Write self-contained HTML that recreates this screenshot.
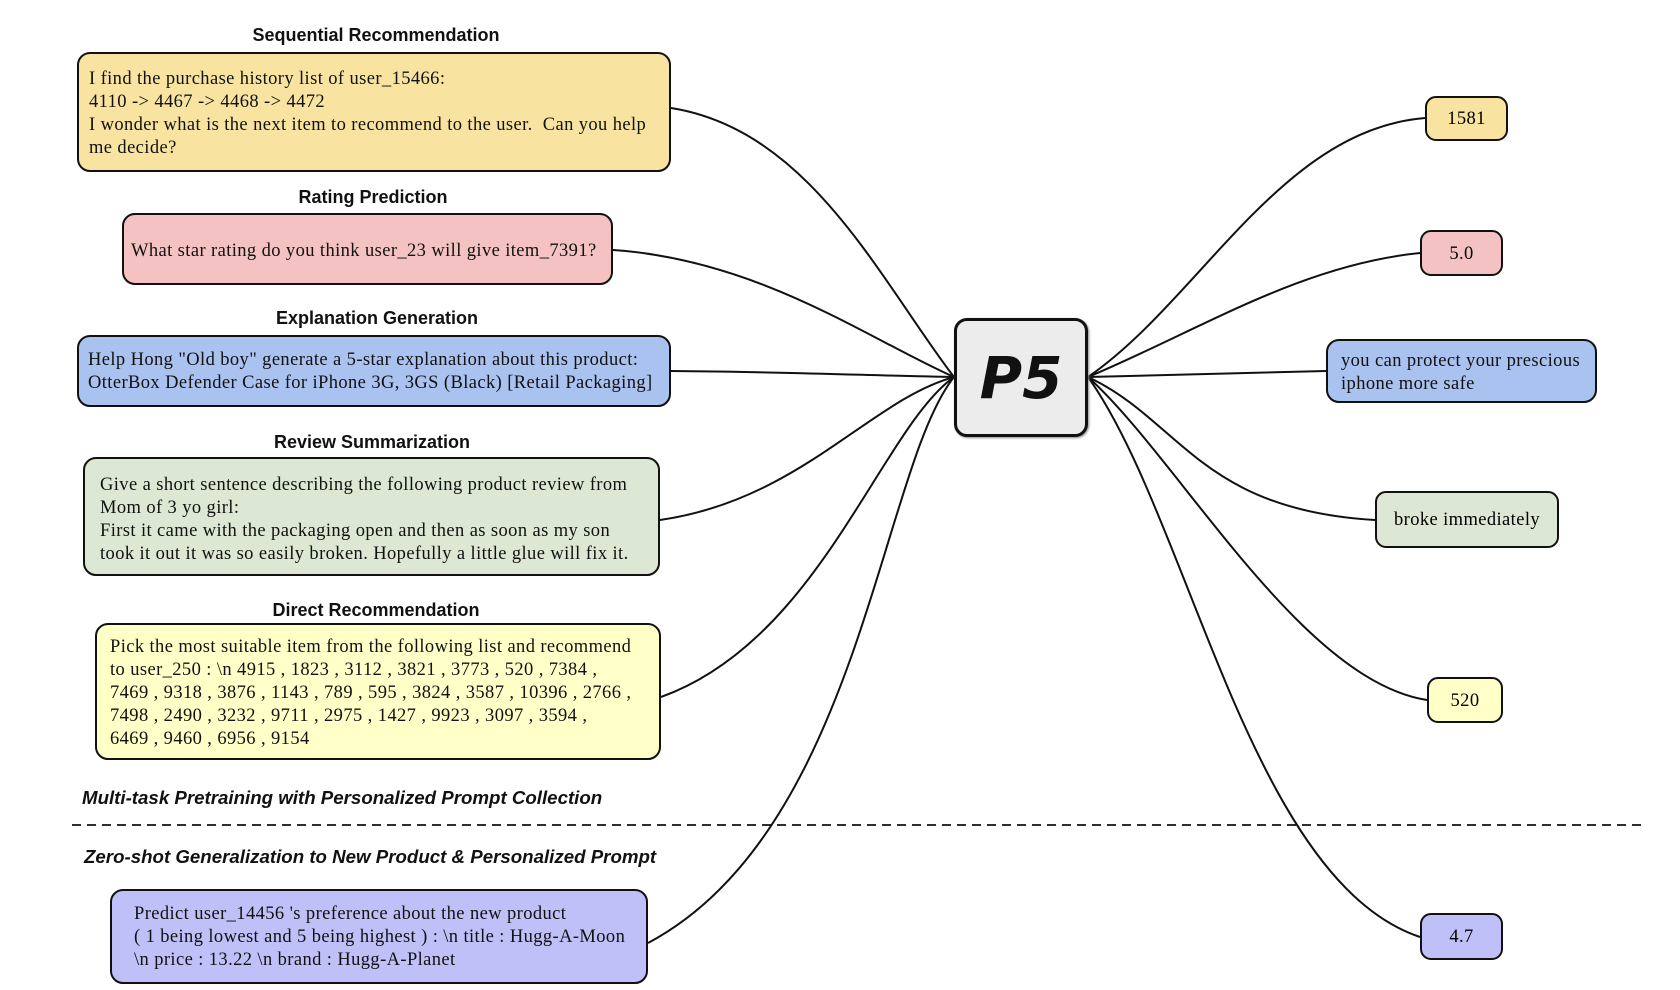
<!DOCTYPE html>
<html><head><meta charset="utf-8"><style>
body{margin:0;width:1680px;height:990px;background:#fff;position:relative;overflow:hidden;font-family:"Liberation Serif",serif;}
.b{position:absolute;border:2.2px solid #111;border-radius:13px;box-sizing:border-box;}
.t{position:absolute;font-size:18.5px;letter-spacing:0.4px;line-height:23px;color:#111;white-space:nowrap;}
.h{position:absolute;font-family:"Liberation Sans",sans-serif;font-weight:bold;font-size:18px;transform:translateX(-50%);white-space:nowrap;color:#111;}
.i{position:absolute;font-family:"Liberation Sans",sans-serif;font-weight:bold;font-style:italic;font-size:18.7px;white-space:nowrap;color:#111;}
.s{position:absolute;border:2.2px solid #111;border-radius:11px;box-sizing:border-box;font-size:18.5px;letter-spacing:0.4px;display:flex;align-items:center;justify-content:center;padding-top:2px;}
</style></head><body>
<svg width="1680" height="990" style="position:absolute;left:0;top:0" fill="none" stroke="#111" stroke-width="2">
<path d="M671,108 C810,130 880,280 954,377"/>
<path d="M613,250 C760,260 870,340 954,377"/>
<path d="M671,371 C800,372 880,376 954,377"/>
<path d="M660,520 C800,500 870,400 954,377"/>
<path d="M661,697 C820,640 880,430 954,377"/>
<path d="M648,943 C860,830 880,470 954,377"/>
<path d="M1088,377 C1200,300 1280,130 1425,118"/>
<path d="M1088,377 C1200,330 1300,265 1420,253"/>
<path d="M1088,377 C1200,374 1300,372 1326,371"/>
<path d="M1088,377 C1180,420 1200,510 1375,520"/>
<path d="M1088,377 C1180,460 1300,680 1427,700"/>
<path d="M1088,377 C1190,520 1250,880 1420,937"/>
<line x1="72" y1="825" x2="1641" y2="825" stroke-dasharray="9,6" stroke-width="1.8"/>
</svg>

<div class="h" style="left:376px;top:25px">Sequential Recommendation</div>
<div class="b" style="left:77px;top:52px;width:594px;height:120px;background:#f9e3a1"></div>
<div class="t" style="left:89px;top:68px">I find the purchase history list of user_15466:<br>4110 -&gt; 4467 -&gt; 4468 -&gt; 4472<br>I wonder what is the next item to recommend to the user.&nbsp; Can you help<br>me decide?</div>

<div class="h" style="left:373px;top:187px">Rating Prediction</div>
<div class="b" style="left:122px;top:213px;width:491px;height:72px;background:#f4c2c2"></div>
<div class="t" style="left:131px;top:240px">What star rating do you think user_23 will give item_7391?</div>

<div class="h" style="left:377px;top:308px">Explanation Generation</div>
<div class="b" style="left:77px;top:335px;width:594px;height:72px;background:#a9c2ef"></div>
<div class="t" style="left:88px;top:349px">Help Hong "Old boy" generate a 5-star explanation about this product:<br>OtterBox Defender Case for iPhone 3G, 3GS (Black) [Retail Packaging]</div>

<div class="h" style="left:372px;top:432px">Review Summarization</div>
<div class="b" style="left:83px;top:457px;width:577px;height:119px;background:#dce8d4"></div>
<div class="t" style="left:100px;top:474px">Give a short sentence describing the following product review from<br>Mom of 3 yo girl:<br>First it came with the packaging open and then as soon as my son<br>took it out it was so easily broken. Hopefully a little glue will fix it.</div>

<div class="h" style="left:376px;top:600px">Direct Recommendation</div>
<div class="b" style="left:95px;top:623px;width:566px;height:137px;background:#ffffc8"></div>
<div class="t" style="left:110px;top:636px">Pick the most suitable item from the following list and recommend<br>to user_250 : \n 4915 , 1823 , 3112 , 3821 , 3773 , 520 , 7384 ,<br>7469 , 9318 , 3876 , 1143 , 789 , 595 , 3824 , 3587 , 10396 , 2766 ,<br>7498 , 2490 , 3232 , 9711 , 2975 , 1427 , 9923 , 3097 , 3594 ,<br>6469 , 9460 , 6956 , 9154</div>

<div class="i" style="left:82px;top:787px">Multi-task Pretraining with Personalized Prompt Collection</div>
<div class="i" style="left:84px;top:846px">Zero-shot Generalization to New Product &amp; Personalized Prompt</div>

<div class="b" style="left:110px;top:889px;width:538px;height:95px;background:#c0c0f8"></div>
<div class="t" style="left:134px;top:903px">Predict user_14456 's preference about the new product<br>( 1 being lowest and 5 being highest ) : \n title : Hugg-A-Moon<br>\n price : 13.22 \n brand : Hugg-A-Planet</div>

<div class="b" style="left:954px;top:318px;width:134px;height:119px;background:#ececec;border-width:3px;display:flex;align-items:center;justify-content:center;box-shadow:1px 1px 2px #888"><span style="font-family:'DejaVu Sans','Liberation Sans',sans-serif;font-weight:bold;font-style:italic;font-size:58px;color:#111">P5</span></div>

<div class="s" style="left:1425px;top:96px;width:83px;height:45px;background:#f9e3a1">1581</div>
<div class="s" style="left:1420px;top:230px;width:83px;height:46px;background:#f4c2c2">5.0</div>
<div class="b" style="left:1326px;top:339px;width:271px;height:64px;background:#a9c2ef"></div>
<div class="t" style="left:1341px;top:350px;line-height:23px">you can protect your prescious<br>iphone more safe</div>
<div class="s" style="left:1375px;top:491px;width:184px;height:57px;background:#dce8d4">broke immediately</div>
<div class="s" style="left:1427px;top:677px;width:76px;height:46px;background:#ffffc8">520</div>
<div class="s" style="left:1420px;top:913px;width:83px;height:47px;background:#c0c0f8">4.7</div>
</body></html>
